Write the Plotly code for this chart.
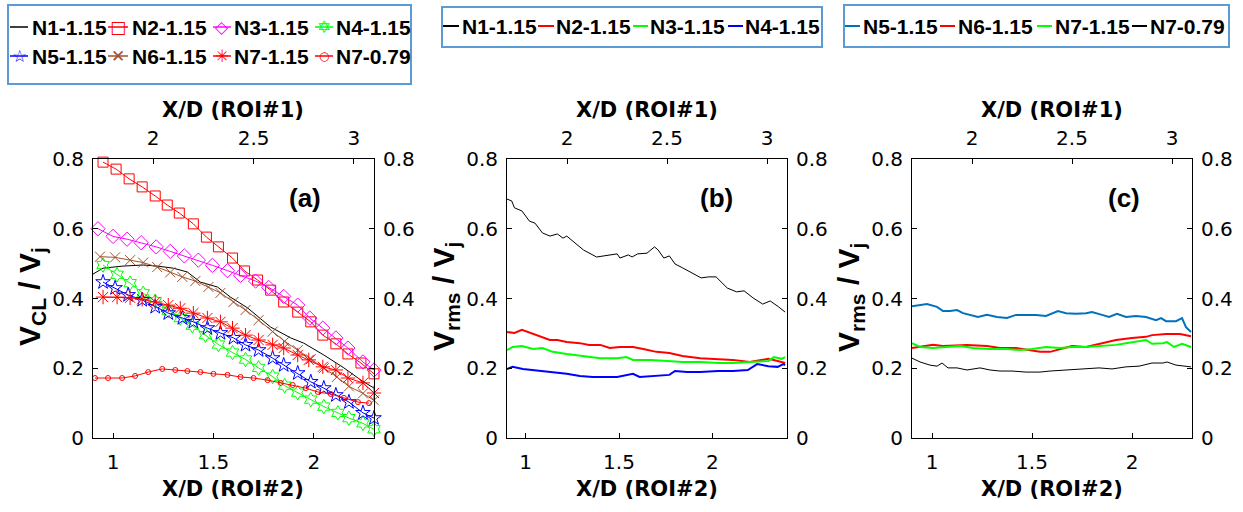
import plotly.graph_objects as go

W, H = 1243, 512

# ---------------- data ----------------
# panel (a): centreline velocity V_CL/V_j vs X/D (ROI#2)
a_n1_x = [0.90, 0.95, 1.05, 1.15, 1.22, 1.30, 1.37, 1.435, 1.52, 1.585, 1.67, 1.785, 1.885, 1.95, 2.05, 2.15, 2.235, 2.30]
a_n1_y = [0.470, 0.487, 0.493, 0.496, 0.493, 0.487, 0.476, 0.447, 0.433, 0.404, 0.373, 0.318, 0.287, 0.272, 0.238, 0.201, 0.166, 0.143]

a_n2_x = [0.95, 1.015, 1.08, 1.145, 1.21, 1.27, 1.33, 1.40, 1.465, 1.525, 1.595, 1.655, 1.72, 1.785, 1.85, 1.92, 1.985, 2.045, 2.11, 2.17, 2.235, 2.30]
a_n2_y = [0.791, 0.771, 0.743, 0.720, 0.694, 0.668, 0.645, 0.614, 0.576, 0.548, 0.516, 0.479, 0.453, 0.424, 0.390, 0.361, 0.333, 0.295, 0.270, 0.241, 0.215, 0.184]

a_n3_x = [0.925, 1.00, 1.07, 1.14, 1.215, 1.285, 1.355, 1.425, 1.495, 1.57, 1.635, 1.71, 1.775, 1.85, 1.92, 1.98, 2.045, 2.11, 2.17, 2.245, 2.30]
a_n3_y = [0.600, 0.578, 0.570, 0.560, 0.548, 0.535, 0.522, 0.510, 0.495, 0.480, 0.466, 0.450, 0.432, 0.406, 0.381, 0.344, 0.315, 0.287, 0.258, 0.218, 0.195]

a_n4_x = [0.95, 1.02, 1.085, 1.15, 1.21, 1.275, 1.335, 1.395, 1.46, 1.525, 1.595, 1.66, 1.725, 1.795, 1.855, 1.92, 1.985, 2.05, 2.12, 2.175, 2.245, 2.30]
a_n4_y = [0.496, 0.468, 0.444, 0.415, 0.392, 0.365, 0.344, 0.322, 0.295, 0.268, 0.245, 0.225, 0.201, 0.176, 0.150, 0.130, 0.110, 0.090, 0.072, 0.057, 0.042, 0.025]

a_n5_x = [0.95, 1.01, 1.075, 1.145, 1.21, 1.275, 1.345, 1.40, 1.47, 1.535, 1.60, 1.66, 1.725, 1.795, 1.85, 1.92, 1.985, 2.05, 2.11, 2.175, 2.245, 2.30]
a_n5_y = [0.447, 0.430, 0.410, 0.396, 0.376, 0.358, 0.344, 0.333, 0.315, 0.301, 0.287, 0.267, 0.252, 0.229, 0.209, 0.186, 0.161, 0.143, 0.123, 0.103, 0.072, 0.057]

a_n6_x = [0.935, 1.01, 1.085, 1.15, 1.22, 1.285, 1.345, 1.41, 1.475, 1.535, 1.60, 1.66, 1.725, 1.795, 1.855, 1.92, 1.985, 2.05, 2.115, 2.175, 2.245, 2.30]
a_n6_y = [0.520, 0.518, 0.510, 0.503, 0.490, 0.475, 0.462, 0.450, 0.433, 0.416, 0.390, 0.367, 0.338, 0.305, 0.277, 0.252, 0.226, 0.200, 0.175, 0.148, 0.128, 0.108]

a_n7_x = [0.95, 1.02, 1.085, 1.145, 1.21, 1.275, 1.335, 1.40, 1.47, 1.535, 1.595, 1.66, 1.725, 1.795, 1.85, 1.92, 1.975, 2.045, 2.11, 2.17, 2.245, 2.30]
a_n7_y = [0.404, 0.404, 0.402, 0.398, 0.390, 0.381, 0.372, 0.358, 0.344, 0.333, 0.315, 0.295, 0.281, 0.267, 0.258, 0.238, 0.224, 0.204, 0.195, 0.172, 0.158, 0.129]

a_n7b_x = [0.91, 0.975, 1.045, 1.11, 1.175, 1.245, 1.31, 1.37, 1.435, 1.50, 1.57, 1.635, 1.70, 1.77, 1.835, 1.895, 1.96, 2.02, 2.085, 2.15, 2.22, 2.275]
a_n7b_y = [0.172, 0.172, 0.172, 0.178, 0.189, 0.198, 0.195, 0.192, 0.189, 0.184, 0.181, 0.175, 0.172, 0.166, 0.158, 0.152, 0.143, 0.132, 0.126, 0.115, 0.103, 0.100]

# panel (b): V_rms/V_j, nozzles N1-N4
b_n1_x = [0.90, 0.925, 0.94, 0.98, 1.02, 1.05, 1.09, 1.13, 1.17, 1.20, 1.22, 1.27, 1.31, 1.38, 1.44, 1.49, 1.505, 1.55, 1.57, 1.60, 1.65, 1.69, 1.71, 1.74, 1.77, 1.80, 1.84, 1.89, 1.94, 1.98, 2.02, 2.08, 2.13, 2.17, 2.22, 2.27, 2.31, 2.355, 2.39]
b_n1_y = [0.685, 0.680, 0.660, 0.651, 0.622, 0.616, 0.588, 0.579, 0.585, 0.573, 0.579, 0.556, 0.539, 0.519, 0.525, 0.528, 0.516, 0.525, 0.519, 0.528, 0.530, 0.548, 0.539, 0.516, 0.522, 0.499, 0.488, 0.473, 0.459, 0.462, 0.462, 0.430, 0.419, 0.422, 0.401, 0.384, 0.393, 0.376, 0.361]

b_n2_x = [0.90, 0.94, 0.98, 1.04, 1.13, 1.17, 1.22, 1.29, 1.34, 1.40, 1.45, 1.505, 1.575, 1.63, 1.70, 1.77, 1.84, 1.935, 2.03, 2.11, 2.20, 2.30, 2.35, 2.39]
b_n2_y = [0.304, 0.301, 0.310, 0.298, 0.281, 0.281, 0.275, 0.272, 0.267, 0.267, 0.258, 0.261, 0.261, 0.255, 0.247, 0.244, 0.235, 0.229, 0.227, 0.224, 0.218, 0.227, 0.221, 0.215]

b_n3_x = [0.90, 0.93, 0.98, 1.04, 1.09, 1.145, 1.22, 1.31, 1.40, 1.49, 1.54, 1.575, 1.67, 1.76, 1.84, 1.935, 2.03, 2.11, 2.20, 2.30, 2.33, 2.37, 2.39]
b_n3_y = [0.252, 0.261, 0.264, 0.255, 0.258, 0.247, 0.241, 0.235, 0.229, 0.229, 0.232, 0.224, 0.224, 0.221, 0.218, 0.218, 0.215, 0.215, 0.218, 0.221, 0.232, 0.227, 0.232]

b_n4_x = [0.90, 0.93, 0.985, 1.04, 1.09, 1.145, 1.22, 1.29, 1.36, 1.49, 1.575, 1.61, 1.77, 1.80, 1.865, 1.935, 2.03, 2.11, 2.19, 2.24, 2.30, 2.35, 2.38, 2.39]
b_n4_y = [0.198, 0.204, 0.198, 0.195, 0.192, 0.189, 0.184, 0.178, 0.175, 0.175, 0.184, 0.175, 0.181, 0.192, 0.189, 0.189, 0.192, 0.192, 0.195, 0.212, 0.206, 0.204, 0.212, 0.209]

# panel (c): V_rms/V_j, nozzles N5-N7
c_n5_x = [0.90, 0.93, 0.975, 1.025, 1.055, 1.09, 1.125, 1.155, 1.19, 1.23, 1.275, 1.325, 1.375, 1.42, 1.47, 1.52, 1.57, 1.60, 1.63, 1.67, 1.72, 1.77, 1.80, 1.85, 1.885, 1.925, 1.97, 2.02, 2.07, 2.12, 2.145, 2.17, 2.22, 2.25, 2.27, 2.295]
c_n5_y = [0.378, 0.381, 0.384, 0.376, 0.364, 0.364, 0.367, 0.358, 0.353, 0.347, 0.353, 0.347, 0.344, 0.353, 0.353, 0.353, 0.350, 0.358, 0.364, 0.358, 0.356, 0.358, 0.361, 0.353, 0.347, 0.356, 0.347, 0.350, 0.347, 0.338, 0.344, 0.335, 0.335, 0.344, 0.318, 0.304]

c_n6_x = [0.90, 0.94, 1.005, 1.055, 1.175, 1.275, 1.34, 1.42, 1.49, 1.54, 1.59, 1.64, 1.70, 1.77, 1.835, 1.92, 2.00, 2.07, 2.10, 2.17, 2.24, 2.295]
c_n6_y = [0.258, 0.261, 0.267, 0.264, 0.267, 0.264, 0.258, 0.258, 0.252, 0.247, 0.247, 0.255, 0.264, 0.261, 0.270, 0.281, 0.287, 0.290, 0.295, 0.298, 0.298, 0.292]

c_n7_x = [0.90, 0.94, 1.005, 1.075, 1.14, 1.205, 1.29, 1.375, 1.44, 1.50, 1.57, 1.64, 1.70, 1.77, 1.835, 1.92, 1.97, 2.035, 2.07, 2.10, 2.155, 2.175, 2.21, 2.25, 2.295]
c_n7_y = [0.272, 0.261, 0.258, 0.261, 0.264, 0.258, 0.255, 0.255, 0.252, 0.255, 0.261, 0.258, 0.261, 0.261, 0.264, 0.267, 0.272, 0.278, 0.281, 0.270, 0.272, 0.275, 0.261, 0.270, 0.261]

c_n7b_x = [0.90, 0.94, 0.99, 1.025, 1.05, 1.08, 1.125, 1.175, 1.24, 1.29, 1.34, 1.40, 1.47, 1.54, 1.59, 1.67, 1.75, 1.835, 1.90, 1.97, 2.035, 2.10, 2.155, 2.175, 2.22, 2.295]
c_n7b_y = [0.229, 0.218, 0.209, 0.206, 0.215, 0.201, 0.201, 0.195, 0.201, 0.195, 0.192, 0.192, 0.189, 0.189, 0.192, 0.195, 0.198, 0.201, 0.198, 0.204, 0.206, 0.215, 0.215, 0.218, 0.209, 0.204]

labels_a = ["N1-1.15", "N2-1.15", "N3-1.15", "N4-1.15", "N5-1.15", "N6-1.15", "N7-1.15", "N7-0.79"]
labels_b = ["N1-1.15", "N2-1.15", "N3-1.15", "N4-1.15"]
labels_c = ["N5-1.15", "N6-1.15", "N7-1.15", "N7-0.79"]

# ---------------- style ----------------
BLACK, RED, MAGENTA, GREEN, BLUE = "#000000", "#FF0000", "#FF00FF", "#00FF00", "#0000FF"
BROWN, MBLUE, BOXC = "#A0522D", "#0072BD", "#5B9BD5"
TICK_FONT = dict(family="DejaVu Sans", size=20, color="black")
AXT_FONT = dict(family="DejaVu Sans", size=21, color="black", weight="bold")
YT_FONT = dict(family="Liberation Sans", size=30, color="black", weight="bold")
LEG_FONT = dict(family="Liberation Sans", size=21, color="black", weight="bold")
PAN_FONT = dict(family="Liberation Sans", size=26, color="black", weight="bold")


def fx(p):
    return p / W


def fy(p):
    return 1 - p / H


fig = go.Figure()

# panel (a)
a_series = [
    (a_n1_x, a_n1_y, BLACK, None, 0),
    (a_n2_x, a_n2_y, RED, "square-open", 10),
    (a_n3_x, a_n3_y, MAGENTA, "diamond-open", 11),
    (a_n4_x, a_n4_y, GREEN, "hexagram-open", 11),
    (a_n5_x, a_n5_y, BLUE, "star-open", 11),
    (a_n6_x, a_n6_y, BROWN, "x-thin-open", 10),
    (a_n7_x, a_n7_y, RED, "asterisk-open", 12),
    (a_n7b_x, a_n7b_y, RED, "circle-open", 5),
]
for (xs, ys, col, sym, sz), name in zip(a_series, labels_a):
    if sym is None:
        fig.add_trace(go.Scatter(x=xs, y=ys, mode="lines", name=name, line=dict(color=col, width=1),
                                 xaxis="x", yaxis="y", showlegend=False))
    else:
        fig.add_trace(go.Scatter(x=xs, y=ys, mode="lines+markers", name=name, line=dict(color=col, width=1),
                                 marker=dict(symbol=sym, size=sz, color=col, line=dict(color=col, width=1)),
                                 xaxis="x", yaxis="y", showlegend=False, cliponaxis=False))

b_series = [(b_n1_x, b_n1_y, BLACK, 1), (b_n2_x, b_n2_y, RED, 2), (b_n3_x, b_n3_y, GREEN, 2), (b_n4_x, b_n4_y, BLUE, 2)]
for (xs, ys, col, lw), name in zip(b_series, labels_b):
    fig.add_trace(go.Scatter(x=xs, y=ys, mode="lines", name=name, line=dict(color=col, width=lw),
                             xaxis="x3", yaxis="y3", showlegend=False))

c_series = [(c_n5_x, c_n5_y, MBLUE, 2), (c_n6_x, c_n6_y, RED, 2), (c_n7_x, c_n7_y, GREEN, 2), (c_n7b_x, c_n7b_y, BLACK, 1)]
for (xs, ys, col, lw), name in zip(c_series, labels_c):
    fig.add_trace(go.Scatter(x=xs, y=ys, mode="lines", name=name, line=dict(color=col, width=lw),
                             xaxis="x5", yaxis="y5", showlegend=False))

# empty traces so the secondary (top / right) axes are drawn
for xa, ya in [("x2", "y"), ("x", "y2"), ("x4", "y3"), ("x3", "y4"), ("x6", "y5"), ("x5", "y6")]:
    fig.add_trace(go.Scatter(x=[], y=[], xaxis=xa, yaxis=ya, showlegend=False, hoverinfo="skip"))

common = dict(showgrid=False, zeroline=False, showline=True, linecolor="black", linewidth=1,
              ticks="inside", ticklen=5, tickwidth=1, tickcolor="black", tickfont=TICK_FONT,
              fixedrange=True, automargin=False)
xcommon = dict(common, dtick=0.5, tick0=0)
ycommon = dict(common, dtick=0.2, tick0=0, range=[0, 0.8])

YD = [fy(438), fy(159)]
panels = [
    ("", "2", "", "2", [93, 374], [0.9, 2.3]),
    ("3", "4", "3", "4", [507, 787], [0.9, 2.4]),
    ("5", "6", "5", "6", [912, 1192], [0.9, 2.3]),
]
lay = {}
for xb, xt, yl, yr, dom, xr in panels:
    lay["xaxis" + xb] = dict(xcommon, domain=[fx(dom[0]), fx(dom[1])], anchor="y" + yl, side="bottom",
                             range=xr, ticklabelstandoff=6)
    lay["xaxis" + xt] = dict(xcommon, overlaying="x" + xb, anchor="y" + yl, side="top",
                             range=[1.7, 3.1], ticklabelstandoff=5)
    lay["yaxis" + yl] = dict(ycommon, domain=YD, anchor="x" + xb, side="left", ticklabelstandoff=4)
    lay["yaxis" + yr] = dict(ycommon, overlaying="y" + yl, anchor="x" + xb, side="right", ticklabelstandoff=4)

annotations = []
shapes = []


def text(x, y, s, font, xanchor="center", yanchor="middle", angle=0):
    annotations.append(dict(x=fx(x), y=fy(y), xref="paper", yref="paper", text=s, showarrow=False,
                            font=font, xanchor=xanchor, yanchor=yanchor, textangle=angle, borderpad=0))


# axis titles
for cx in [233, 647, 1052]:
    text(cx, 489, "X/D (ROI#2)", AXT_FONT)
    text(cx, 110, "X/D (ROI#1)", AXT_FONT)
text(31, 297, "V<sub>CL</sub> / V<sub>j</sub>", YT_FONT, angle=-90)
text(445, 297, "V<sub>rms</sub> / V<sub>j</sub>", YT_FONT, angle=-90)
text(850, 297, "V<sub>rms</sub> / V<sub>j</sub>", YT_FONT, angle=-90)

# panel labels
text(305, 198, "(a)", PAN_FONT)
text(716, 198, "(b)", PAN_FONT)
text(1124, 198, "(c)", PAN_FONT)


def box(x0, y0, x1, y1):
    shapes.append(dict(type="rect", xref="paper", yref="paper", x0=fx(x0), x1=fx(x1), y0=fy(y1), y1=fy(y0),
                       line=dict(color=BOXC, width=2), fillcolor="white", layer="above"))


def seg(x0, x1, y, col, w):
    shapes.append(dict(type="line", xref="paper", yref="paper", x0=fx(x0), x1=fx(x1), y0=fy(y), y1=fy(y),
                       line=dict(color=col, width=w), layer="above"))


# legend (a)
box(8, 5, 411, 84)
glyph = {"square-open": "□", "diamond-open": "◇", "hexagram-open": "✡", "star-open": "☆",
         "x-thin-open": "✕", "asterisk-open": "✳", "circle-open": "○"}
sym_x = [(10, 28), (108, 128), (213, 231), (315, 333)]
txt_x = [31, 131, 233, 335]
for i, ((xs, ys, col, sym, sz), name) in enumerate(zip(a_series, labels_a)):
    row_y = 27 if i < 4 else 56
    x0, x1 = sym_x[i % 4]
    seg(x0, x1, row_y, col, 1.5)
    if sym is not None:
        gs = 12 if sym == "circle-open" else 17
        text((x0 + x1) / 2, row_y, glyph[sym], dict(family="DejaVu Sans", size=gs, color=col))
    text(txt_x[i % 4], row_y, name, LEG_FONT, xanchor="left")

# legend (b)
box(442, 7, 822, 47)
for (xs, ys, col, lw), name, (x0, x1), tx in zip(b_series, labels_b, [(443, 459), (538, 554), (633, 648), (728, 743)],
                                                 [461, 555, 649, 744]):
    seg(x0, x1, 26, col, 2)
    text(tx, 26, name, LEG_FONT, xanchor="left")

# legend (c)
box(844, 5, 1229, 47)
for (xs, ys, col, lw), name, (x0, x1), tx in zip(c_series, labels_c, [(845, 860), (940, 955), (1037, 1052), (1132, 1147)],
                                                 [862, 957, 1054, 1149]):
    seg(x0, x1, 26, col, 2)
    text(tx, 26, name, LEG_FONT, xanchor="left")

fig.update_layout(width=W, height=H, autosize=False, margin=dict(l=0, r=0, t=0, b=0, pad=0),
                  paper_bgcolor="white", plot_bgcolor="white", showlegend=False,
                  annotations=annotations, shapes=shapes, **lay)

post = ("document.documentElement.style.margin='0';document.body.style.margin='0';"
        "document.body.style.padding='0';document.body.style.overflow='hidden';"
        "var gd=document.getElementById('{plot_id}');gd.style.width='1243px';gd.style.height='512px';"
        "Plotly.relayout(gd,{width:1243,height:512,autosize:false});")
fig.write_html("out.html", config={"displayModeBar": False, "responsive": False}, post_script=post)
